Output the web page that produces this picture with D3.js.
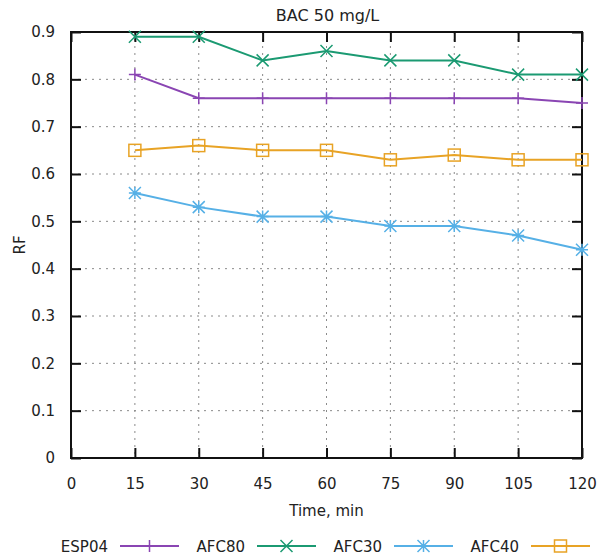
<!DOCTYPE html>
<html><head><meta charset="utf-8">
<script src="https://cdn.jsdelivr.net/npm/d3@7"></script>
<style>
body{margin:0;background:#fff;}
text{font-family:"DejaVu Sans",Verdana,sans-serif;fill:#222;}
</style></head>
<body><svg id="c" width="598" height="557"></svg>
<script>
const times = [15, 30, 45, 60, 75, 90, 105, 120];
const seriesNames = ["ESP04", "AFC80", "AFC30", "AFC40"];
const esp04 = [0.81, 0.76, 0.76, 0.76, 0.76, 0.76, 0.76, 0.75];
const afc80 = [0.89, 0.89, 0.84, 0.86, 0.84, 0.84, 0.81, 0.81];
const afc30 = [0.56, 0.53, 0.51, 0.51, 0.49, 0.49, 0.47, 0.44];
const afc40 = [0.65, 0.66, 0.65, 0.65, 0.63, 0.64, 0.63, 0.63];
const xTicks = [0, 15, 30, 45, 60, 75, 90, 105, 120];
const yTicks = [0, 0.1, 0.2, 0.3, 0.4, 0.5, 0.6, 0.7, 0.8, 0.9];
const title = "BAC 50 mg/L";
const xLabel = "Time, min";
const yLabel = "RF";

const colors = ["#8a45b3", "#1b9a72", "#56b0e6", "#e8a325"];
const markers = ["plus", "cross", "star", "square"];
const values = [esp04, afc80, afc30, afc40];

const svg = d3.select("#c");
const L = 71, R = 582, T = 32, B = 458;
const x = d3.scaleLinear().domain([0, 120]).range([L, R]);
const y = d3.scaleLinear().domain([0, 0.9]).range([B, T]);

// grid
const g = svg.append("g");
g.selectAll(".gx").data(xTicks.filter(t => t > 0 && t < 120)).enter().append("line")
  .attr("x1", d => x(d)).attr("x2", d => x(d)).attr("y1", T).attr("y2", B)
  .attr("stroke", "#8a8a8a").attr("stroke-width", 1).attr("stroke-dasharray", "2,5");
g.selectAll(".gy").data(yTicks.filter(t => t > 0 && t < 0.9)).enter().append("line")
  .attr("x1", L).attr("x2", R).attr("y1", d => y(d)).attr("y2", d => y(d))
  .attr("stroke", "#8a8a8a").attr("stroke-width", 1).attr("stroke-dasharray", "2,5");

// axes
const tk = 10;
const axB = d3.axisBottom(x).tickValues(xTicks).tickSize(-tk).tickPadding(tk + 10).tickFormat(d3.format("d"));
const axT = d3.axisTop(x).tickValues(xTicks).tickSize(-tk).tickFormat("");
const axL = d3.axisLeft(y).tickValues(yTicks).tickSize(-tk).tickPadding(tk + 6).tickFormat(d => d === 0 ? "0" : d3.format(".1f")(d));
const axRr = d3.axisRight(y).tickValues(yTicks).tickSize(-tk).tickFormat("");
function style(sel) {
  sel.select(".domain").remove();
  sel.selectAll(".tick line").attr("stroke", "#111").attr("stroke-width", 2);
  sel.selectAll(".tick text").attr("font-size", 15).attr("fill", "#333")
     .attr("font-family", "DejaVu Sans, Verdana, sans-serif");
}
svg.append("g").attr("transform", `translate(0,${B})`).call(axB).call(style);
svg.append("g").attr("transform", `translate(0,${T})`).call(axT).call(style);
svg.append("g").attr("transform", `translate(${L},0)`).call(axL).call(style);
svg.append("g").attr("transform", `translate(${R},0)`).call(axRr).call(style);
svg.append("rect").attr("x", L).attr("y", T).attr("width", R - L).attr("height", B - T)
  .attr("fill", "none").attr("stroke", "#111").attr("stroke-width", 2);

// marker drawing
function drawMarker(sel, type, cx, cy, color) {
  const s = 6;
  if (type === "plus") {
    sel.append("path").attr("d", `M${cx - s},${cy}H${cx + s}M${cx},${cy - s}V${cy + s}`)
      .attr("stroke", color).attr("stroke-width", 1.5).attr("fill", "none");
  } else if (type === "cross") {
    sel.append("path").attr("d", `M${cx - s},${cy - s}L${cx + s},${cy + s}M${cx - s},${cy + s}L${cx + s},${cy - s}`)
      .attr("stroke", color).attr("stroke-width", 1.5).attr("fill", "none");
  } else if (type === "star") {
    sel.append("path").attr("d", `M${cx - s},${cy}H${cx + s}M${cx},${cy - s}V${cy + s}M${cx - s},${cy - s}L${cx + s},${cy + s}M${cx - s},${cy + s}L${cx + s},${cy - s}`)
      .attr("stroke", color).attr("stroke-width", 1.5).attr("fill", "none");
  } else {
    sel.append("rect").attr("x", cx - s).attr("y", cy - s).attr("width", 2 * s).attr("height", 2 * s)
      .attr("stroke", color).attr("stroke-width", 1.5).attr("fill", "none");
  }
}

// series
const line = d3.line().x((d, i) => x(times[i])).y(d => y(d));
values.forEach((vals, k) => {
  const sg = svg.append("g");
  sg.append("path").datum(vals).attr("d", line).attr("fill", "none")
    .attr("stroke", colors[k]).attr("stroke-width", 2);
  vals.forEach((v, i) => drawMarker(sg, markers[k], x(times[i]), y(v), colors[k]));
});

// titles
svg.append("text").attr("x", (L + R) / 2 + 1).attr("y", 21).attr("text-anchor", "middle")
  .attr("font-size", 16).attr("fill", "#333").text(title);
svg.append("text").attr("x", (L + R) / 2).attr("y", 516).attr("text-anchor", "middle")
  .attr("font-size", 15).attr("fill", "#333").text(xLabel);
svg.append("text").attr("transform", `translate(25,${(T + B) / 2}) rotate(-90)`).attr("text-anchor", "middle")
  .attr("font-size", 15).attr("fill", "#333").text(yLabel);

// legend
const legY = 546;
seriesNames.forEach((name, k) => {
  const tx = 108 + k * 137;
  svg.append("text").attr("x", tx).attr("y", legY + 5.5).attr("text-anchor", "end")
    .attr("font-size", 15).attr("fill", "#333").text(name);
  const lx0 = tx + 12, lx1 = tx + 71;
  svg.append("line").attr("x1", lx0).attr("x2", lx1).attr("y1", legY).attr("y2", legY)
    .attr("stroke", colors[k]).attr("stroke-width", 2);
  drawMarker(svg, markers[k], (lx0 + lx1) / 2, legY, colors[k]);
});
</script></body></html>
